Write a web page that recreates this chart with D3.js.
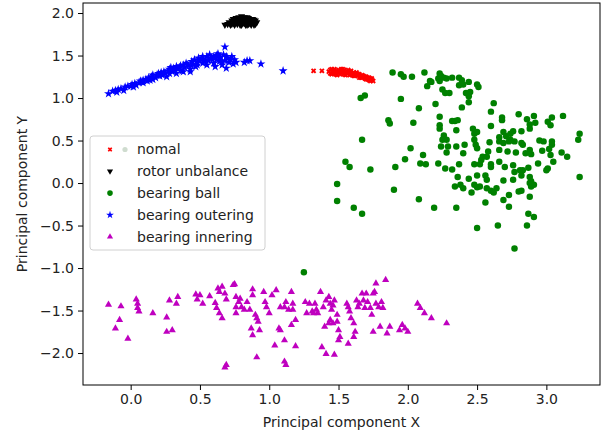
<!DOCTYPE html>
<html>
<head>
<meta charset="utf-8">
<script src="https://cdn.jsdelivr.net/npm/d3@7"></script>
<style>
  html, body { margin: 0; padding: 0; background: #fff; }
  svg { display: block; }
  text { font-family: "DejaVu Sans", sans-serif; fill: #222; }
</style>
</head>
<body>
<svg id="chart" width="608" height="434"></svg>
<script>
// ---------- data ----------
const seriesNames = ["nomal", "rotor unbalance", "bearing ball", "bearing outering", "bearing innering"];
const xTicks = [0.0, 0.5, 1.0, 1.5, 2.0, 2.5, 3.0];
const yTicks = [2.0, 1.5, 1.0, 0.5, 0.0, -0.5, -1.0, -1.5, -2.0];
const xLabel = "Principal component X";
const yLabel = "Principal component Y";

const nomal = [[1.32,1.32],[1.38,1.32],[1.43,1.31],[1.44,1.33],[1.44,1.29],[1.46,1.32],[1.46,1.30],[1.47,1.34],[1.48,1.31],[1.48,1.28],[1.50,1.33],[1.50,1.30],[1.51,1.32],[1.52,1.29],[1.53,1.31],[1.54,1.33],[1.54,1.28],[1.55,1.30],[1.56,1.32],[1.57,1.29],[1.58,1.27],[1.58,1.31],[1.60,1.29],[1.60,1.27],[1.61,1.30],[1.62,1.26],[1.63,1.28],[1.64,1.26],[1.65,1.24],[1.65,1.28],[1.66,1.26],[1.67,1.24],[1.68,1.26],[1.69,1.23],[1.70,1.25],[1.71,1.22],[1.71,1.24],[1.72,1.21],[1.73,1.23],[1.74,1.21],[1.75,1.20],[1.52,1.34],[1.49,1.27],[1.57,1.33],[1.62,1.29],
  [1.45,1.34],[1.45,1.28],[1.47,1.29],[1.49,1.32],[1.51,1.28],[1.53,1.34],[1.55,1.27],[1.56,1.29],[1.59,1.32],[1.59,1.28],[1.61,1.26],[1.63,1.30],[1.64,1.28],[1.66,1.24],[1.67,1.27],[1.69,1.25],[1.70,1.22],[1.72,1.24],[1.73,1.20],[1.74,1.23]];

const rotorUnbalance = [[0.68,1.86],[0.70,1.87],[0.71,1.89],[0.72,1.86],[0.73,1.91],[0.74,1.88],[0.74,1.93],[0.75,1.86],[0.76,1.90],[0.77,1.94],[0.77,1.87],[0.78,1.92],[0.79,1.89],[0.80,1.94],[0.80,1.86],[0.81,1.91],[0.82,1.88],[0.83,1.93],[0.84,1.86],[0.84,1.90],[0.85,1.94],[0.86,1.88],[0.86,1.92],[0.87,1.86],[0.88,1.90],[0.88,1.93],[0.89,1.88],[0.90,1.91],[0.91,1.89],[0.90,1.87],[0.78,1.95],[0.82,1.95],[0.76,1.92],[0.72,1.88],
  [0.73,1.87],[0.75,1.89],[0.75,1.92],[0.77,1.89],[0.79,1.93],[0.79,1.86],[0.81,1.88],[0.81,1.94],[0.83,1.89],[0.83,1.86],[0.85,1.89],[0.85,1.87],[0.87,1.91],[0.87,1.93],[0.89,1.92],[0.89,1.86],[0.84,1.95],[0.80,1.96],[0.76,1.94]];

const bearingBall = [[1.89,1.30],[1.95,1.28],[1.97,1.25],[2.03,1.25],[2.12,1.30],[2.23,1.29],[2.24,1.26],[2.22,1.23],[2.26,1.24],[2.23,1.20],[2.16,1.20],[2.14,1.14],[2.17,1.19],[2.28,1.23],[2.32,1.24],[2.37,1.24],[2.39,1.21],[2.37,1.15],[2.40,1.16],[2.44,1.19],[2.50,1.16],[2.51,1.13],[2.42,1.06],[2.45,1.07],[2.44,1.02],[2.44,0.95],[2.39,0.89],[2.25,1.10],[2.27,1.06],[2.30,1.06],[2.20,0.93],[2.08,0.88],[1.95,0.99],[1.66,1.00],[1.69,1.03],
[2.62,0.94],[2.60,0.84],[2.68,0.77],[2.68,0.74],[2.60,0.67],[2.80,0.81],[2.86,0.75],[2.91,0.79],[2.88,0.69],[2.92,0.71],[3.01,0.72],[3.03,0.68],[3.04,0.77],[3.12,0.79],[2.88,0.64],[2.82,0.61],[2.76,0.61],[2.74,0.58],[2.71,0.55],[2.69,0.60],[2.66,0.54],[2.66,0.49],[2.69,0.47],[2.73,0.49],[2.74,0.51],[2.77,0.49],[2.82,0.47],[2.83,0.45],[2.95,0.50],[2.98,0.49],[3.04,0.49],[3.04,0.45],[3.24,0.58],[3.23,0.51],[3.02,0.40],[3.03,0.33],[2.97,0.38],[2.89,0.34],[2.88,0.39],[2.85,0.35],[2.78,0.36],[2.72,0.37],[2.66,0.39],[2.59,0.48],[2.58,0.37],[2.57,0.31],[2.54,0.31],[2.53,0.27],[2.48,0.22],[2.50,0.41],[2.49,0.45],[2.48,0.51],[2.48,0.58],[2.47,0.64],[2.50,0.60],[2.35,0.62],[2.34,0.73],[2.32,0.73],[2.36,0.74],[2.23,0.78],[2.23,0.68],[2.23,0.64],[2.26,0.56],[2.28,0.51],[2.25,0.51],[2.24,0.43],[2.29,0.43],[2.35,0.43],[2.41,0.45],[2.40,0.35],[2.28,0.36],[2.22,0.23],[2.27,0.17],[2.32,0.16],[2.37,0.22],[2.52,0.22],[2.60,0.22],[2.60,0.19],[2.66,0.25],[2.70,0.19],[2.76,0.21],[2.77,0.13],[2.81,0.15],[2.83,0.15],[2.87,0.18],[2.94,0.23],[3.00,0.15],[3.01,0.17],[3.05,0.25],[3.11,0.36],[3.15,0.31],[3.24,0.07],[2.56,0.09],[2.57,0.04],[2.50,0.09],[2.44,0.05],[2.36,0.07],[2.34,-0.04],[2.40,-0.06],[2.38,-0.02],[2.48,-0.02],[2.50,-0.05],[2.52,-0.04],[2.57,-0.06],[2.60,-0.09],[2.62,-0.11],[2.64,-0.06],[2.69,0.03],[2.76,0.04],[2.82,0.09],[2.88,0.07],[2.89,0.02],[2.91,-0.02],[2.89,-0.04],[2.88,0.00],[2.82,-0.09],[2.80,-0.10],[2.73,-0.14],[2.69,-0.20],[2.73,-0.28],[2.88,-0.16],[2.87,-0.36],[2.91,-0.40],[2.86,-0.50],[2.65,-0.50],[2.50,-0.53],[2.77,-0.77],[2.56,-0.23],[2.46,-0.11],[2.35,-0.29],[2.19,-0.29],[2.08,-0.19],[1.90,-0.08],[1.49,-0.01],[1.49,-0.21],[1.61,-0.29],[1.67,-0.36],[1.55,0.25],[1.58,0.19],[1.73,0.16],[1.91,0.19],[1.98,0.28],[2.02,0.41],[2.09,0.23],[2.13,0.22],[2.11,0.33],[1.67,0.51],[1.86,0.74],[1.87,0.70],[2.04,0.71],[1.25,-1.05]];

const bearingOutering = [[-0.16,1.05],[-0.11,1.09],[-0.09,1.10],[-0.07,1.11],[-0.04,1.13],[-0.02,1.14],[0.01,1.16],[0.03,1.17],[0.06,1.18],[0.07,1.20],[0.09,1.21],[0.11,1.22],[0.13,1.24],[0.15,1.25],[0.16,1.27],[0.19,1.27],[0.20,1.29],[0.21,1.26],[0.22,1.30],[0.24,1.31],[0.25,1.29],[0.27,1.32],[0.28,1.34],[0.30,1.31],[0.31,1.35],[0.32,1.33],[0.33,1.37],[0.34,1.34],[0.36,1.38],[0.37,1.32],[0.38,1.39],[0.39,1.36],[0.40,1.41],[0.42,1.38],[0.43,1.34],[0.44,1.43],[0.45,1.40],[0.46,1.45],[0.47,1.37],[0.48,1.42],[0.49,1.47],[0.50,1.44],[0.52,1.49],[0.52,1.41],[0.54,1.45],[0.55,1.49],[0.56,1.44],[0.57,1.51],[0.58,1.47],[0.60,1.41],[0.60,1.49],[0.62,1.45],[0.63,1.52],[0.64,1.43],[0.65,1.48],[0.66,1.39],[0.67,1.51],[0.68,1.60],[0.68,1.44],[0.69,1.35],[0.70,1.47],[0.71,1.42],[0.73,1.49],[0.74,1.40],[0.75,1.45],[0.76,1.42],[0.82,1.42],[0.84,1.44],[0.86,1.44],[0.94,1.40],[0.43,1.31],[0.33,1.29],[0.26,1.25],[0.16,1.22],[0.09,1.18],[0.02,1.13],[-0.05,1.09],[0.38,1.31],[0.48,1.39],[0.55,1.39],[0.61,1.37],[0.66,1.43],[0.14,1.21],[0.28,1.29],[1.10,1.32],
  [-0.13,1.08],[-0.10,1.07],[0.00,1.14],[0.04,1.15],[0.08,1.19],[0.12,1.20],[0.18,1.24],[0.23,1.27],[0.29,1.36],[0.35,1.36],[0.41,1.39],[0.44,1.38],[0.51,1.46],[0.53,1.43],[0.59,1.45],[0.62,1.50],[0.64,1.47],[0.69,1.49],[0.72,1.45]];

const bearingInnering = [[-0.16,-1.43],[-0.07,-1.45],[-0.11,-1.71],[-0.08,-1.61],[-0.02,-1.83],[0.04,-1.37],[0.05,-1.42],[0.05,-1.47],[0.06,-1.51],[0.16,-1.53],[0.26,-1.58],[0.28,-1.38],[0.26,-1.75],[0.30,-1.73],[0.33,-1.42],[0.34,-1.34],[0.47,-1.31],[0.48,-1.37],[0.50,-1.32],[0.52,-1.42],[0.57,-1.33],[0.61,-1.41],[0.62,-1.47],[0.64,-1.53],[0.66,-1.59],[0.63,-1.24],[0.64,-1.28],[0.66,-1.22],[0.68,-1.30],[0.69,-1.37],[0.74,-1.20],[0.75,-1.19],[0.76,-1.34],[0.78,-1.40],[0.79,-1.36],[0.76,-1.46],[0.76,-1.53],[0.80,-1.46],[0.82,-1.49],[0.84,-1.40],[0.86,-1.49],[0.88,-1.25],[0.88,-1.32],[0.90,-1.55],[0.91,-1.59],[0.92,-1.63],[0.87,-1.71],[0.88,-1.79],[0.93,-1.73],[0.96,-1.28],[0.97,-1.40],[0.98,-1.46],[1.00,-1.53],[1.02,-1.32],[1.05,-1.26],[1.08,-1.46],[1.07,-1.71],[1.08,-1.73],[1.11,-1.46],[1.12,-1.40],[1.14,-1.49],[1.16,-1.28],[1.17,-1.42],[1.17,-1.49],[1.16,-1.67],[1.19,-1.61],[1.11,-1.85],[1.04,-1.91],[1.19,-1.92],[0.91,-2.05],[0.69,-2.14],[0.68,-2.17],[1.11,-2.10],[1.12,-2.14],[1.26,-1.40],[1.29,-1.42],[1.31,-1.51],[1.33,-1.42],[1.34,-1.49],[1.37,-1.28],[1.35,-1.53],[1.39,-1.46],[1.41,-1.38],[1.43,-1.34],[1.44,-1.42],[1.45,-1.49],[1.46,-1.44],[1.47,-1.38],[1.49,-1.55],[1.44,-1.61],[1.46,-1.65],[1.49,-1.63],[1.50,-1.73],[1.51,-1.81],[1.50,-1.85],[1.56,-1.42],[1.57,-1.46],[1.58,-1.51],[1.59,-1.59],[1.61,-1.65],[1.62,-1.75],[1.61,-1.81],[1.57,-1.89],[1.63,-1.38],[1.64,-1.46],[1.65,-1.42],[1.67,-1.30],[1.68,-1.38],[1.69,-1.47],[1.70,-1.30],[1.71,-1.40],[1.73,-1.47],[1.74,-1.55],[1.75,-1.30],[1.76,-1.28],[1.77,-1.18],[1.77,-1.42],[1.79,-1.46],[1.81,-1.40],[1.82,-1.47],[1.80,-1.69],[1.75,-1.75],[1.84,-1.14],[1.87,-1.69],[1.85,-1.77],[1.94,-1.73],[1.96,-1.67],[1.98,-1.71],[2.00,-1.75],[2.07,-1.42],[2.09,-1.47],[2.12,-1.53],[2.17,-1.59],[2.28,-1.65],[1.38,-1.93],[1.41,-2.01],[1.47,-2.02],[1.40,-1.69],[1.43,-1.65],[1.32,-1.53],[1.27,-1.53]];

// ---------- layout ----------
const svg = d3.select("#chart");
const plot = { left: 83, right: 600, top: 3, bottom: 385 };
const x = d3.scaleLinear().domain([-0.344, 3.387]).range([plot.left, plot.right]);
const y = d3.scaleLinear().domain([2.118, -2.376]).range([plot.top, plot.bottom]);

const series = [
  { name: seriesNames[0], data: nomal,            color: "#ff0000", type: d3.symbolCross,    size: 18, rot: 45 },
  { name: seriesNames[1], data: rotorUnbalance,   color: "#000000", type: d3.symbolTriangle, size: 22, rot: 180 },
  { name: seriesNames[2], data: bearingBall,      color: "#008000", type: d3.symbolCircle,   size: 33, rot: 0 },
  { name: seriesNames[3], data: bearingOutering,  color: "#0000ff", type: d3.symbolStar,     size: 25, rot: 0 },
  { name: seriesNames[4], data: bearingInnering,  color: "#bf00bf", type: d3.symbolTriangle, size: 22, rot: 0 }
];

// marks
const marks = svg.append("g");
series.forEach(s => {
  const path = d3.symbol().type(s.type).size(s.size)();
  marks.append("g").selectAll("path").data(s.data).join("path")
    .attr("d", path)
    .attr("transform", d => `translate(${x(d[0])},${y(d[1])}) rotate(${s.rot})`)
    .attr("fill", s.color);
});

// axes
const fmt = d => d3.format(".1f")(d).replace("-", "\u2212");
const xAxis = d3.axisBottom(x).tickValues(xTicks).tickSize(5).tickPadding(4).tickFormat(fmt);
const yAxis = d3.axisLeft(y).tickValues(yTicks).tickSize(5).tickPadding(4).tickFormat(fmt);

const gx = svg.append("g").attr("transform", `translate(0,${plot.bottom})`).call(xAxis);
const gy = svg.append("g").attr("transform", `translate(${plot.left},0)`).call(yAxis);
[gx, gy].forEach(g => {
  g.select(".domain").remove();
  g.selectAll(".tick line").attr("stroke", "#000").attr("stroke-width", 1);
  g.selectAll(".tick text").attr("font-size", 14).attr("font-family", "DejaVu Sans, sans-serif").attr("fill", "#222");
});

// frame
svg.append("rect")
  .attr("x", plot.left).attr("y", plot.top)
  .attr("width", plot.right - plot.left).attr("height", plot.bottom - plot.top)
  .attr("fill", "none").attr("stroke", "#000").attr("stroke-width", 1);

// axis labels
svg.append("text").attr("x", (plot.left + plot.right) / 2).attr("y", 427)
  .attr("text-anchor", "middle").attr("font-size", 14).text(xLabel);
svg.append("text").attr("transform", `translate(27,${(plot.top + plot.bottom) / 2}) rotate(-90)`)
  .attr("text-anchor", "middle").attr("font-size", 14).text(yLabel);

// legend
const lg = svg.append("g");
lg.append("rect").attr("x", 90).attr("y", 136).attr("width", 175).attr("height", 114)
  .attr("rx", 3).attr("fill", "#fff").attr("fill-opacity", 0.8)
  .attr("stroke", "#d0d0d0").attr("stroke-width", 1);
series.forEach((s, i) => {
  const cy = 149.5 + i * 21.8;
  lg.append("path").attr("d", d3.symbol().type(s.type).size(s.size * 0.75)())
    .attr("transform", `translate(110,${cy}) rotate(${s.rot})`).attr("fill", s.color);
  if (i === 0) {
    lg.append("circle").attr("cx", 125).attr("cy", cy).attr("r", 2.6).attr("fill", "#cfdccf");
  }
  lg.append("text").attr("x", 137).attr("y", cy).attr("dy", "0.35em")
    .attr("font-size", 14).text(s.name);
});
</script>
</body>
</html>
